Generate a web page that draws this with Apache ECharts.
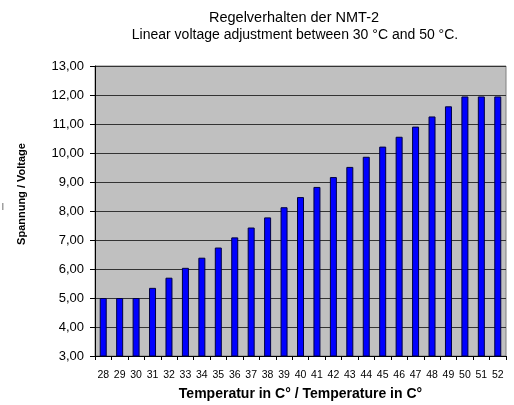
<!DOCTYPE html>
<html><head><meta charset="utf-8">
<script src="https://cdn.jsdelivr.net/npm/echarts@6/dist/echarts.min.js"></script>
<style>html,body{margin:0;padding:0;background:#fff}#c{width:514px;height:405px}</style>
</head><body><div id="c"></div>
<script>
const categories = ['28','29','30','31','32','33','34','35','36','37','38','39','40','41','42','43','44','45','46','47','48','49','50','51','52'];
const voltage = [5.00,5.00,5.00,5.35,5.70,6.04,6.39,6.74,7.09,7.43,7.78,8.13,8.48,8.83,9.17,9.52,9.87,10.22,10.56,10.91,11.26,11.61,11.95,11.95,11.95];
const titleLines = ['Regelverhalten der NMT-2','Linear voltage adjustment between 30 °C and 50 °C.'];
const yName = 'Spannung / Voltage';
const xName = 'Temperatur in C° / Temperature in C°';
const ff = 'Liberation Sans, Arial, sans-serif';
const chart = echarts.init(document.getElementById('c'));
chart.setOption({
  animation:false,
  title:[
    {text:titleLines[0], left:289, top:5, textAlign:'center', textStyle:{fontFamily:ff,fontSize:14.5,fontWeight:'normal',color:'#000'}},
    {text:titleLines[1], left:290, top:23, textAlign:'center', textStyle:{fontFamily:ff,fontSize:14,fontWeight:'normal',color:'#000'}}
  ],
  grid:{left:95,right:8,top:66,bottom:49,outerBoundsMode:'none',containLabel:false,show:true,backgroundColor:'#C0C0C0',borderColor:'#808080',borderWidth:1},
  xAxis:{type:'category',data:categories,boundaryGap:true,
    name:xName,nameLocation:'middle',nameGap:31,
    nameTextStyle:{fontFamily:ff,fontSize:14,fontWeight:'bold',color:'#000'},
    axisLine:{show:true,lineStyle:{color:'#000',width:1}},
    axisTick:{show:true,length:4,inside:false,alignWithLabel:false,lineStyle:{color:'#000'}},
    axisLabel:{fontFamily:ff,fontSize:10.5,color:'#000',margin:14,interval:0},
    splitLine:{show:false}},
  yAxis:{type:'value',min:3,max:13,interval:1,
    axisLine:{show:true,lineStyle:{color:'#000',width:1}},
    axisTick:{show:true,length:5,lineStyle:{color:'#000'}},
    axisLabel:{fontFamily:ff,fontSize:13,color:'#000',margin:11,formatter:v=>v.toFixed(2).replace('.',',')},
    splitLine:{show:true,lineStyle:{color:'#333',width:1}}},
  series:[{type:'bar',data:voltage,barWidth:7,
    itemStyle:{color:'#0000FF',borderColor:'#000040',borderWidth:1}}],
  graphic:[
    {type:'text',x:22,y:194,rotation:Math.PI/2,style:{text:yName,fontFamily:ff,fontSize:11,fontWeight:'bold',fill:'#000',align:'center',verticalAlign:'middle'}},
    {type:'text',x:3,y:206,style:{text:'|',fontFamily:ff,fontSize:7,fill:'#000',align:'center',verticalAlign:'middle'}}
  ]
});
</script></body></html>
